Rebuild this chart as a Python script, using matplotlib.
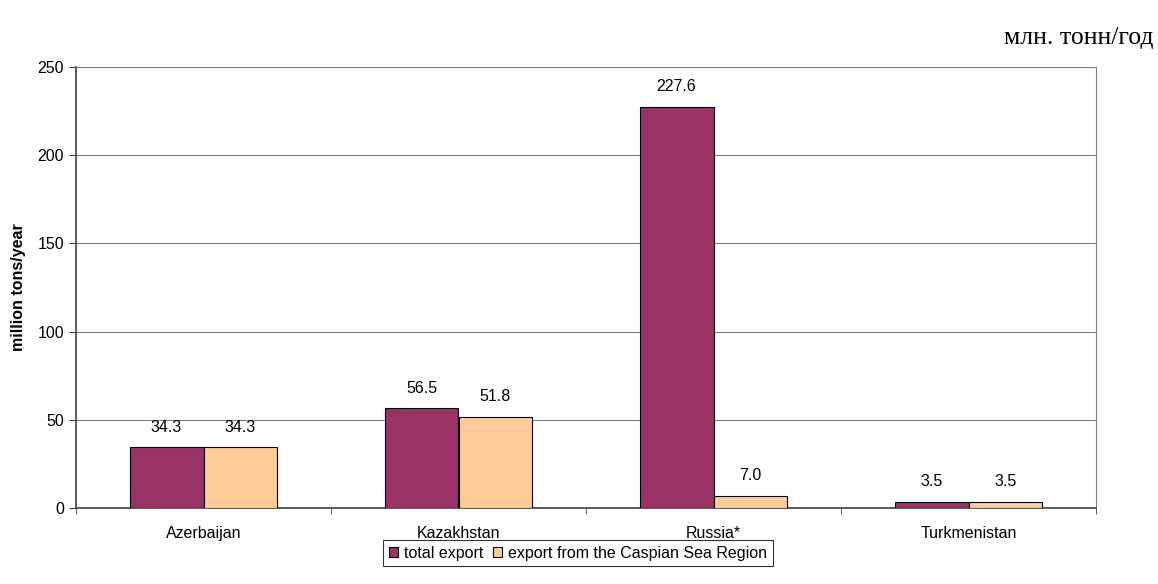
import matplotlib.pyplot as plt
import numpy as np

# Данные
countries = ["Azerbaijan", "Kazakhstan", "Russia*", "Turkmenistan"]
total_export = [34.3, 56.5, 227.6, 3.5]
caspian_export = [34.3, 51.8, 7.0, 3.5]
series_names = ["total export", "export from the Caspian Sea Region"]

plt.rcParams['font.family'] = ['Liberation Sans', 'DejaVu Sans']
fs = 11.5

fig = plt.figure(figsize=(11.58, 5.84), dpi=100)
ax = fig.add_axes([76/1158, 1 - 508/584, 1020/1158, 441/584])

x = np.arange(len(countries))
w = 0.29
b1 = ax.bar(x - w/2, total_export, w, color="#993366", edgecolor="black", linewidth=0.8,
            label=series_names[0], zorder=3)
b2 = ax.bar(x + w/2, caspian_export, w, color="#FFCC99", edgecolor="black", linewidth=0.8,
            label=series_names[1], zorder=3)

for bars, vals in [(b1, total_export), (b2, caspian_export)]:
    for r, v in zip(bars, vals):
        ax.text(r.get_x() + r.get_width()/2, v + 7, f"{v:.1f}", ha="center", va="bottom", fontsize=fs)

ax.set_xlim(-0.5, len(countries) - 0.5)
ax.set_ylim(0, 250)
ax.set_yticks(range(0, 251, 50))
ax.yaxis.grid(True, color="#808080", linewidth=0.8, zorder=0)
ax.set_xticks(x)
ax.set_xticklabels(countries, fontsize=fs)
ax.tick_params(axis="x", length=0, pad=13)
ax.set_xticks(np.arange(-0.5, len(countries), 1), minor=True)
ax.tick_params(axis="x", which="minor", length=4, color="#404040")
ax.tick_params(axis="y", labelsize=fs, length=5, color="#404040")
ax.set_ylabel("million tons/year", fontsize=fs, fontweight="bold", labelpad=8)

for s in ["top", "right"]:
    ax.spines[s].set_color("#808080")
for s in ["left", "bottom"]:
    ax.spines[s].set_color("#404040")
    ax.spines[s].set_linewidth(1.2)

leg = ax.legend(loc="upper center", bbox_to_anchor=(0.492, -0.073), ncol=2, fontsize=fs,
                frameon=True, fancybox=False, edgecolor="black", handlelength=0.6,
                handleheight=0.6, handletextpad=0.35, columnspacing=0.6, borderpad=0.35,
                borderaxespad=0)
leg.get_frame().set_linewidth(0.8)

fig.text(1153/1158, 1 - 38/584, "млн. тонн/год", family=["Liberation Serif", "DejaVu Serif"],
         fontsize=18.5, ha="right", va="center")

fig.savefig("out.png", dpi=100)
